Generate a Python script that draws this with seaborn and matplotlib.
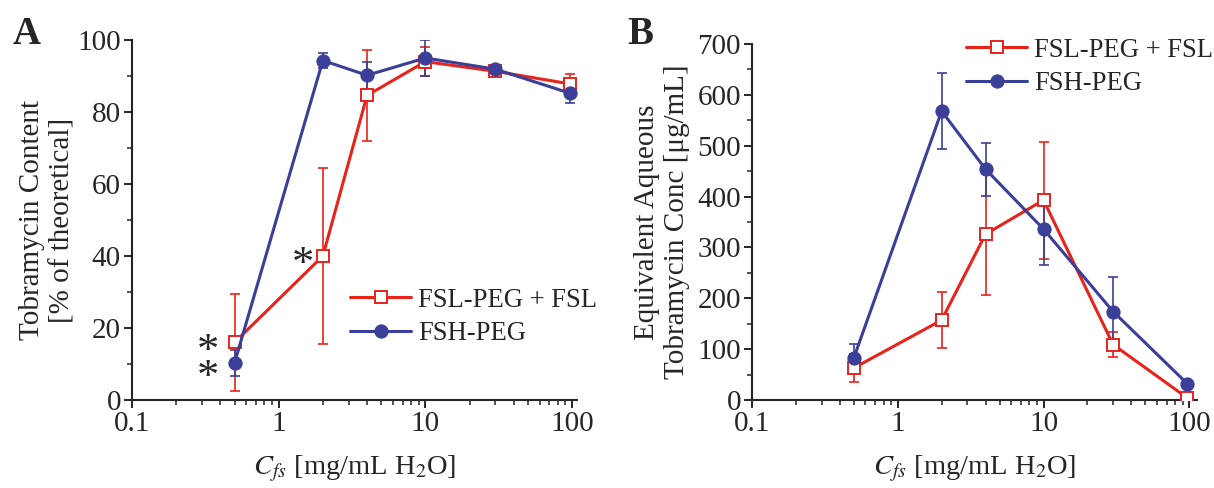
import numpy as np
import pandas as pd
import matplotlib
matplotlib.use("Agg")
import matplotlib.pyplot as plt
import seaborn as sns
from matplotlib.ticker import FixedLocator, MultipleLocator, NullFormatter, LogLocator

# ---- data ----
cfs = [0.5, 2, 4, 10, 30, 97]
series = ["FSL-PEG + FSL", "FSH-PEG"]

a_fsl = [16.0, 40.0, 84.6, 94.0, 91.3, 87.8]
a_fsl_err = [13.4, 24.5, 12.7, 4.0, 1.0, 2.8]
a_fsh = [10.3, 94.3, 90.2, 95.0, 91.9, 85.2]
a_fsh_err = [3.6, 2.0, 3.7, 5.0, 0.8, 2.8]

b_fsl = [63, 157, 326, 393, 109, 4]
b_fsl_err = [27, 55, 119, 115, 25, 2]
b_fsh = [83, 568, 454, 336, 174, 32]
b_fsh_err = [28, 75, 52, 70, 67, 3]

a_yticks = [0, 20, 40, 60, 80, 100]
b_yticks = [0, 100, 200, 300, 400, 500, 600, 700]
x_ticks = [0.1, 1, 10, 100]
x_ticklabels = ["0.1", "1", "10", "100"]

RED = "#e8231c"
BLUE = "#3b3f98"

sns.set_style("ticks")
plt.rcParams["font.family"] = ["Liberation Serif", "DejaVu Serif"]
plt.rcParams["mathtext.fontset"] = "stix"
plt.rcParams["axes.linewidth"] = 1.5

W, H = 1214, 488
fig = plt.figure(figsize=(W / 100, H / 100), dpi=100)


def px_axes(left, top, right, bottom):
    return fig.add_axes([left / W, 1 - bottom / H, (right - left) / W, (bottom - top) / H])


axA = px_axes(132, 40, 577, 400)
axB = px_axes(752, 44, 1197, 400)


def draw(ax, y1, e1, y2, e2, xmax):
    df = pd.DataFrame({
        "x": cfs * 2,
        "y": list(y1) + list(y2),
        "s": [series[0]] * len(cfs) + [series[1]] * len(cfs),
    })
    ax.errorbar(cfs, y1, yerr=e1, fmt="none", ecolor=RED, elinewidth=1.2,
                capsize=3.5, capthick=1.2, zorder=2)
    ax.errorbar(cfs, y2, yerr=e2, fmt="none", ecolor=BLUE, elinewidth=1.2,
                capsize=3.5, capthick=1.2, zorder=2)
    sns.lineplot(data=df[df.s == series[0]], x="x", y="y", ax=ax, color=RED,
                 lw=2.2, marker="s", markersize=9, markerfacecolor="white",
                 markeredgecolor=RED, markeredgewidth=1.4, label=series[0],
                 zorder=3)
    sns.lineplot(data=df[df.s == series[1]], x="x", y="y", ax=ax, color=BLUE,
                 lw=2.2, marker="o", markersize=9.5, markerfacecolor=BLUE,
                 markeredgecolor=BLUE, label=series[1], zorder=4)
    ax.set_xscale("log")
    ax.set_xlim(0.1, xmax)
    ax.xaxis.set_major_locator(FixedLocator(x_ticks))
    ax.set_xticklabels(x_ticklabels)
    ax.xaxis.set_minor_locator(LogLocator(base=10, subs=np.arange(2, 10)))
    ax.xaxis.set_minor_formatter(NullFormatter())
    for s in ["top", "right"]:
        ax.spines[s].set_visible(False)
    ax.tick_params(which="major", direction="out", length=6, width=1.4,
                   labelsize=21, pad=2)
    ax.tick_params(which="minor", direction="out", length=3.5, width=1.1)
    ax.set_xlabel(r"$C_{fs}$ [mg/mL H$_2$O]", fontsize=20.5, labelpad=12)
    ax.grid(False)


leg_kw = dict(frameon=False, fontsize=19.2, handlelength=2.3, handletextpad=0.25,
              labelspacing=0.32, borderaxespad=0, borderpad=0)

draw(axA, a_fsl, a_fsl_err, a_fsh, a_fsh_err, 108)
axA.set_ylim(0, 100)
axA.yaxis.set_major_locator(FixedLocator(a_yticks))
axA.yaxis.set_minor_locator(MultipleLocator(10))
axA.set_ylabel("Tobramycin Content\n[% of theoretical]", fontsize=21,
               linespacing=1.2)
axA.yaxis.set_label_coords(-0.128, 0.5)
axA.legend(loc="center left", bbox_to_anchor=(350 / W, 1 - 317 / H),
           bbox_transform=fig.transFigure, **leg_kw)
# significance asterisks
axA.text(0.327, 9.6, "*\n*", fontsize=32, ha="center", va="center",
         linespacing=0.55)
axA.text(1.46, 37.5, "*", fontsize=32, ha="center", va="center")

draw(axB, b_fsl, b_fsl_err, b_fsh, b_fsh_err, 113)
axB.set_ylim(0, 700)
axB.yaxis.set_major_locator(FixedLocator(b_yticks))
axB.yaxis.set_minor_locator(MultipleLocator(50))
axB.set_ylabel("Equivalent Aqueous\nTobramycin Conc [μg/mL]", fontsize=21,
               linespacing=1.2)
axB.yaxis.set_label_coords(-0.139, 0.5)
axB.legend(loc="center left", bbox_to_anchor=(966 / W, 1 - 67 / H),
           bbox_transform=fig.transFigure, **leg_kw)

fig.text(13 / W, 1 - 16 / H, "A", fontsize=28, fontweight="bold", va="top")
fig.text(627 / W, 1 - 16 / H, "B", fontsize=28, fontweight="bold", va="top")

fig.savefig("out.png", dpi=100)
